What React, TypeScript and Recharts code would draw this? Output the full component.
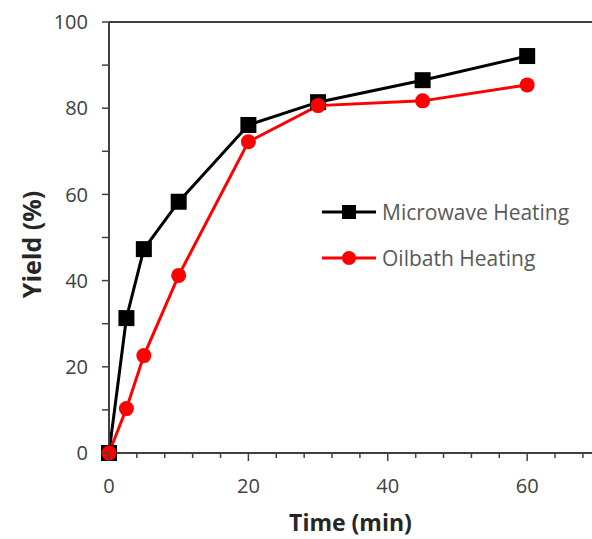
import React from 'react';
import {
  LineChart,
  Line,
  XAxis,
  YAxis,
  ReferenceLine,
  Legend,
} from 'recharts';

// data
const times = [0, 2.5, 5, 10, 20, 30, 45, 60];
const microwave = [0, 31.3, 47.3, 58.3, 76.1, 81.4, 86.5, 92.1];
const oilbath = [0, 10.3, 22.6, 41.2, 72.2, 80.6, 81.7, 85.4];

const xTicks = [0, 4, 8, 12, 16, 20, 24, 28, 32, 36, 40, 44, 48, 52, 56, 60, 64, 68];
const yTicks = [0, 10, 20, 30, 40, 50, 60, 70, 80, 90, 100];

const SERIES = [
  { key: 'microwave', name: 'Microwave Heating', color: '#000000', shape: 'square' },
  { key: 'oilbath', name: 'Oilbath Heating', color: '#ff0000', shape: 'circle' },
] as const;

const data = times.map((t, i) => ({ time: t, microwave: microwave[i], oilbath: oilbath[i] }));

const FONT = '"Open Sans", sans-serif';
const AXIS = '#404040';
const LABEL = '#404040';

const XTick = (props: any) => {
  const { x, y, payload } = props;
  const major = payload.value % 20 === 0;
  return (
    <g>
      <line x1={x} x2={x} y1={y} y2={y + (major ? 8 : 5)} stroke={AXIS} strokeWidth={1.5} />
      {major && (
        <text x={x} y={y + 40} textAnchor="middle" fontSize={20} fontFamily={FONT} fill={LABEL}>
          {payload.value}
        </text>
      )}
    </g>
  );
};

const YTick = (props: any) => {
  const { x, y, payload } = props;
  const major = payload.value % 20 === 0;
  return (
    <g>
      <line x1={x} x2={x - 7} y1={y} y2={y} stroke={AXIS} strokeWidth={1.5} />
      {major && (
        <text x={x - 21} y={y} dy="0.36em" textAnchor="end" fontSize={20} fontFamily={FONT} fill={LABEL}>
          {payload.value}
        </text>
      )}
    </g>
  );
};

const YLabel = (props: any) => {
  const { viewBox } = props;
  const cy = viewBox.y + viewBox.height / 2 + 7;
  return (
    <text
      x={32}
      y={cy}
      transform={`rotate(-90, 32, ${cy})`}
      textAnchor="middle"
      dy="0.35em"
      fontSize={25}
      fontWeight={700}
      fontFamily={FONT}
      fill="#262626"
    >
      Yield (%)
    </text>
  );
};

const Square = (props: any) => {
  const { cx, cy, index } = props;
  return <rect key={`sq-${index}`} x={cx - 8} y={cy - 8} width={16} height={16} fill="#000" />;
};

const LegendBox = () => (
  <div style={{ fontFamily: FONT, fontSize: 21, color: '#595959' }}>
    {SERIES.map((s) => (
      <div key={s.key} style={{ display: 'flex', alignItems: 'center', height: 46 }}>
        <svg width={58} height={20}>
          <line x1={2} x2={56} y1={10} y2={10} stroke={s.color} strokeWidth={3} />
          {s.shape === 'square' ? (
            <rect x={22} y={3} width={14} height={14} fill={s.color} />
          ) : (
            <circle cx={29} cy={10} r={7} fill={s.color} />
          )}
        </svg>
        <span style={{ marginLeft: 4 }}>{s.name}</span>
      </div>
    ))}
  </div>
);

export default function App() {
  return (
    <div style={{ position: 'absolute', left: 0, top: 0, width: 592, height: 539, background: '#fff', overflow: 'hidden' }}>
      <LineChart width={592} height={539} data={data} margin={{ top: 22, right: 0, bottom: 0, left: 0 }}>
        <XAxis
          type="number"
          dataKey="time"
          domain={[0, 69.3]}
          ticks={xTicks}
          interval={0}
          height={86}
          tickSize={0}
          tickMargin={0}
          tick={<XTick />}
          axisLine={{ stroke: AXIS, strokeWidth: 2 }}
          label={{ value: 'Time (min)', position: 'insideBottom', offset: 8, fontSize: 23, fontWeight: 700, fontFamily: FONT, fill: '#262626' }}
        />
        <YAxis
          type="number"
          domain={[0, 100]}
          ticks={yTicks}
          interval={0}
          width={109}
          tickSize={0}
          tickMargin={0}
          tick={<YTick />}
          axisLine={{ stroke: AXIS, strokeWidth: 2 }}
          label={<YLabel />}
        />
        <ReferenceLine y={100} stroke={AXIS} strokeWidth={2} ifOverflow="visible" />
        <Legend
          content={<LegendBox />}
          layout="vertical"
          verticalAlign="middle"
          align="center"
          wrapperStyle={{ top: 189, left: 320, width: 270 }}
        />
        <Line
          dataKey="microwave"
          name="Microwave Heating"
          stroke="#000"
          strokeWidth={3}
          dot={<Square />}
          activeDot={false}
          isAnimationActive={false}
        />
        <Line
          dataKey="oilbath"
          name="Oilbath Heating"
          stroke="#ff0000"
          strokeWidth={3}
          dot={{ r: 7.5, fill: '#ff0000', stroke: 'none' }}
          activeDot={false}
          isAnimationActive={false}
        />
      </LineChart>
    </div>
  );
}
